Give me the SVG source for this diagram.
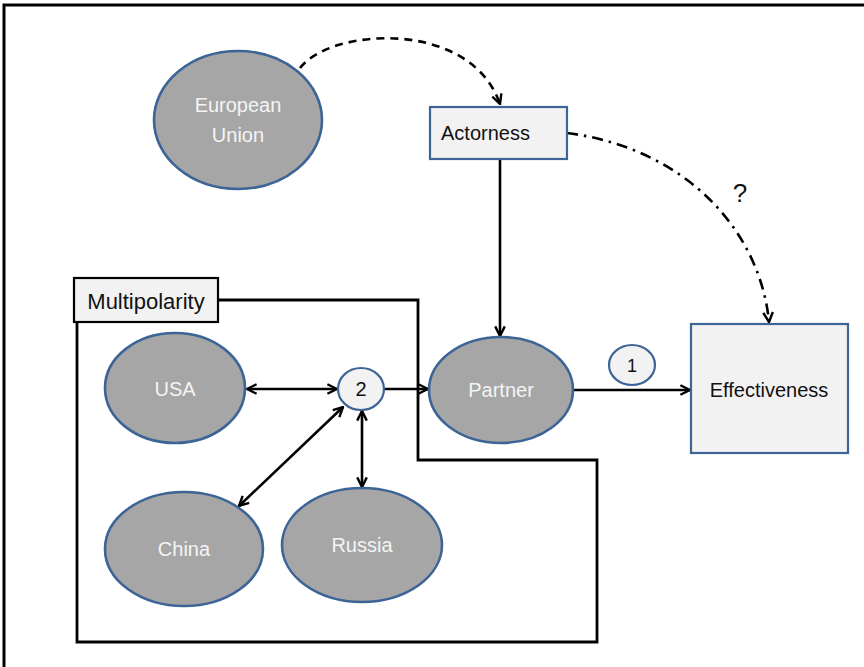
<svg xmlns="http://www.w3.org/2000/svg" width="864" height="667" viewBox="0 0 864 667">
<defs>
<style>
.ell{fill:#a6a6a6;stroke:#3d6496;stroke-width:2.6}
.box{fill:#f2f2f2;stroke:#3d6496;stroke-width:2.2}
.lt{font-family:"Liberation Sans",Arial,sans-serif;font-size:20px;fill:#f4f4f4;text-anchor:middle}
.dt{font-family:"Liberation Sans",Arial,sans-serif;font-size:20px;fill:#111;text-anchor:middle}
.ln{fill:none;stroke:#000;stroke-width:2.6}
</style>
<marker id="ar" viewBox="0 0 10 10" refX="9" refY="5" markerWidth="12" markerHeight="12" markerUnits="userSpaceOnUse" orient="auto-start-reverse">
<path d="M1,1 L9,5 L1,9" fill="none" stroke="#000" stroke-width="2"/>
</marker>
</defs>
<rect width="864" height="667" fill="#fff"/>
<path d="M4,667 V5 H866" fill="none" stroke="#000" stroke-width="3"/>

<g id="multipolarity-frame">
<path d="M218,300 H418 V460 H597 V642 H77 V322" fill="none" stroke="#000" stroke-width="2.8"/>
</g>

<g id="connectors">
<path class="ln" d="M300,68 C330,28 470,18 500,104" stroke-dasharray="8,6" marker-end="url(#ar)"/>
<path class="ln" d="M567,133 C685,148 760,230 769,322" stroke-dasharray="11,6,2.5,6" marker-end="url(#ar)"/>
<line class="ln" x1="500" y1="159" x2="500" y2="336" marker-end="url(#ar)"/>
<line class="ln" x1="573" y1="390" x2="690" y2="390" marker-end="url(#ar)"/>
<line class="ln" x1="247" y1="389" x2="337" y2="389" marker-start="url(#ar)" marker-end="url(#ar)"/>
<line class="ln" x1="385" y1="389" x2="428" y2="389" marker-end="url(#ar)"/>
<line class="ln" x1="343" y1="407" x2="239" y2="506" marker-start="url(#ar)" marker-end="url(#ar)"/>
<line class="ln" x1="362" y1="411" x2="362" y2="487" marker-start="url(#ar)" marker-end="url(#ar)"/>
</g>

<g id="eu">
<ellipse class="ell" cx="238" cy="120" rx="84" ry="69"/>
<text class="lt" x="238" y="112">European</text>
<text class="lt" x="238" y="142">Union</text>
</g>

<g id="actorness">
<rect class="box" x="430" y="107" width="137" height="52"/>
<text class="dt" x="441" y="140" style="text-anchor:start">Actorness</text>
</g>

<g id="question">
<text class="dt" x="740" y="202" style="font-size:26px">?</text>
</g>

<g id="effectiveness">
<rect class="box" x="691" y="324" width="157" height="129"/>
<text class="dt" x="769" y="397">Effectiveness</text>
</g>

<g id="partner">
<ellipse class="ell" cx="501" cy="390" rx="72" ry="53"/>
<text class="lt" x="501" y="397">Partner</text>
</g>

<g id="label-1">
<ellipse class="box" cx="632" cy="365" rx="23" ry="20"/>
<text class="dt" x="632" y="372" style="font-size:18px">1</text>
</g>

<g id="multipolarity">
<rect x="74" y="278" width="144" height="44" fill="#f2f2f2" stroke="#000" stroke-width="2.2"/>
<text class="dt" x="146" y="309" style="font-size:22px">Multipolarity</text>
</g>

<g id="usa">
<ellipse class="ell" cx="175" cy="388" rx="70" ry="55"/>
<text class="lt" x="175" y="396">USA</text>
</g>

<g id="label-2">
<ellipse class="box" cx="361" cy="389" rx="23" ry="21"/>
<text class="dt" x="361" y="396">2</text>
</g>

<g id="china">
<ellipse class="ell" cx="184" cy="549" rx="79" ry="57"/>
<text class="lt" x="184" y="556">China</text>
</g>

<g id="russia">
<ellipse class="ell" cx="362" cy="545" rx="80" ry="57"/>
<text class="lt" x="362" y="552">Russia</text>
</g>
</svg>
